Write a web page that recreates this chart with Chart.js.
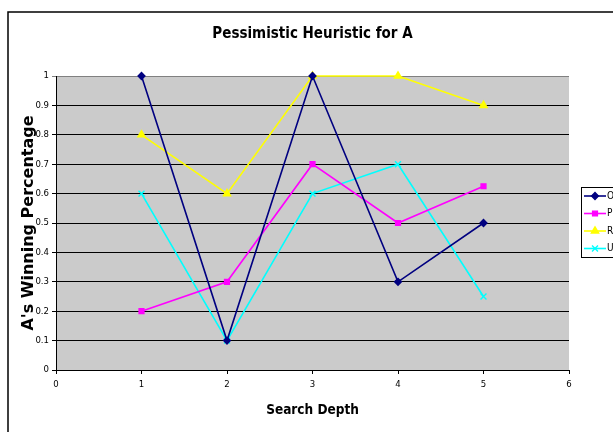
<!DOCTYPE html>
<html>
<head>
<meta charset="utf-8">
<script src="https://cdn.jsdelivr.net/npm/chart.js@4/dist/chart.umd.min.js"></script>
<style>
  html, body { margin: 0; padding: 0; background: #fff; }
  #wrap { width: 613px; height: 432px; }
</style>
</head>
<body>
<div id="wrap"><canvas id="c" width="613" height="432"></canvas></div>
<script>
// Search depth on the x axis, winning percentage per opponent heuristic
const depths = [1, 2, 3, 4, 5];
const seriesNames = ['O', 'P', 'R', 'U'];
const valuesO = [1, 0.1, 1, 0.3, 0.5];
const valuesP = [0.2, 0.3, 0.7, 0.5, 0.625];
const valuesR = [0.8, 0.6, 1, 1, 0.9];
const valuesU = [0.6, 0.1, 0.6, 0.7, 0.25];
const xTicks = [0, 1, 2, 3, 4, 5, 6];
const yTicks = [0, 0.1, 0.2, 0.3, 0.4, 0.5, 0.6, 0.7, 0.8, 0.9, 1];

const styles = [
  { color: '#000080', point: 'rectRot', radius: 3.4 },
  { color: '#FF00FF', point: 'rect', radius: 3.4 },
  { color: '#FFFF00', point: 'triangle', radius: 4.2 },
  { color: '#00FFFF', point: 'crossRot', radius: 4.2 }
];

const allValues = [valuesO, valuesP, valuesR, valuesU];
const datasets = allValues.map((vals, i) => ({
  label: seriesNames[i],
  data: depths.map((d, k) => ({ x: d, y: vals[k] })),
  borderColor: styles[i].color,
  backgroundColor: styles[i].color,
  borderWidth: 1.6,
  pointStyle: styles[i].point,
  pointRadius: styles[i].radius,
  pointBorderWidth: 1.4,
  pointBorderColor: styles[i].color,
  pointBackgroundColor: styles[i].color,
  tension: 0,
  clip: false
}));

// Outer frame and grey plot background
const frame = {
  id: 'frame',
  beforeDraw(chart) {
    const ctx = chart.ctx;
    const a = chart.chartArea;
    ctx.save();
    ctx.fillStyle = '#fff';
    ctx.fillRect(0, 0, chart.width, chart.height);
    ctx.strokeStyle = '#000';
    ctx.lineWidth = 1.5;
    ctx.strokeRect(8, 12, 700, 500);
    ctx.fillStyle = '#CBCBCB';
    ctx.fillRect(a.left, a.top, a.right - a.left, a.bottom - a.top);
    ctx.restore();
  }
};

// Boxed legend with line-and-marker samples, to the right of the plot
const sideLegend = {
  id: 'sideLegend',
  afterDraw(chart) {
    const ctx = chart.ctx;
    const a = chart.chartArea;
    const bx = a.right + 12, by = 187, rowH = 17.5;
    ctx.save();
    ctx.fillStyle = '#fff';
    ctx.fillRect(bx, by, 80, 70);
    ctx.strokeStyle = '#000';
    ctx.lineWidth = 1;
    ctx.strokeRect(bx + 0.5, by + 0.5, 80, 70);
    chart.data.datasets.forEach((ds, i) => {
      const y = by + 9 + i * rowH;
      ctx.strokeStyle = ds.borderColor;
      ctx.lineWidth = 1.6;
      ctx.beginPath();
      ctx.moveTo(bx + 3, y);
      ctx.lineTo(bx + 25, y);
      ctx.stroke();
      ctx.fillStyle = ds.borderColor;
      ctx.lineWidth = ds.pointBorderWidth;
      Chart.helpers.drawPoint(ctx, {
        pointStyle: ds.pointStyle,
        radius: ds.pointRadius,
        borderWidth: ds.pointBorderWidth,
        rotation: 0
      }, bx + 14, y);
      ctx.fillStyle = '#000';
      ctx.font = '10px "DejaVu Sans Condensed"';
      ctx.textBaseline = 'middle';
      ctx.textAlign = 'left';
      ctx.fillText(ds.label, bx + 26, y);
    });
    ctx.restore();
  }
};

const tickFont = { family: '"DejaVu Sans Condensed"', size: 9.5 };

new Chart(document.getElementById('c'), {
  type: 'line',
  data: { datasets },
  plugins: [frame, sideLegend],
  options: {
    responsive: false,
    animation: false,
    events: [],
    layout: { padding: { left: 10, right: 44, top: 20, bottom: 0 } },
    plugins: {
      legend: { display: false },
      tooltip: { enabled: false },
      title: {
        display: true,
        fullSize: false,
        text: 'Pessimistic Heuristic for A',
        color: '#000',
        font: { family: '"DejaVu Sans Condensed"', size: 15, weight: 'bold', lineHeight: 1.2 },
        padding: { top: 5, bottom: 33 }
      }
    },
    scales: {
      x: {
        type: 'linear',
        min: 0,
        max: 6,
        afterBuildTicks(scale) { scale.ticks = xTicks.map(v => ({ value: v })); },
        afterFit(scale) { scale.height = 62; },
        grid: { drawOnChartArea: false, drawTicks: true, tickLength: 4, color: '#000', lineWidth: 1 },
        border: { display: true, color: '#000', width: 1 },
        ticks: { color: '#000', font: tickFont, padding: 5, maxRotation: 0 },
        title: {
          display: true,
          text: 'Search Depth',
          color: '#000',
          font: { family: '"DejaVu Sans Condensed"', size: 13.5, weight: 'bold', lineHeight: 1.2 },
          padding: { top: 10, bottom: 13 }
        }
      },
      y: {
        type: 'linear',
        min: 0,
        max: 1,
        afterBuildTicks(scale) { scale.ticks = yTicks.map(v => ({ value: v })); },
        afterFit(scale) { scale.width = 46; },
        grid: {
          drawTicks: true,
          tickLength: 4,
          color: (c) => (c.tick && c.tick.value === 1 ? '#808080' : '#000'),
          lineWidth: 1
        },
        border: { display: true, color: '#000', width: 1 },
        ticks: {
          color: '#000',
          font: tickFont,
          padding: 3,
          callback: (v) => String(Math.round(v * 10) / 10)
        },
        title: {
          display: true,
          text: "A's Winning Percentage",
          color: '#000',
          font: { family: '"DejaVu Sans"', size: 16, weight: 'bold', lineHeight: 1.2 },
          padding: { top: 9, bottom: 0 }
        }
      }
    }
  }
});
</script>
</body>
</html>
